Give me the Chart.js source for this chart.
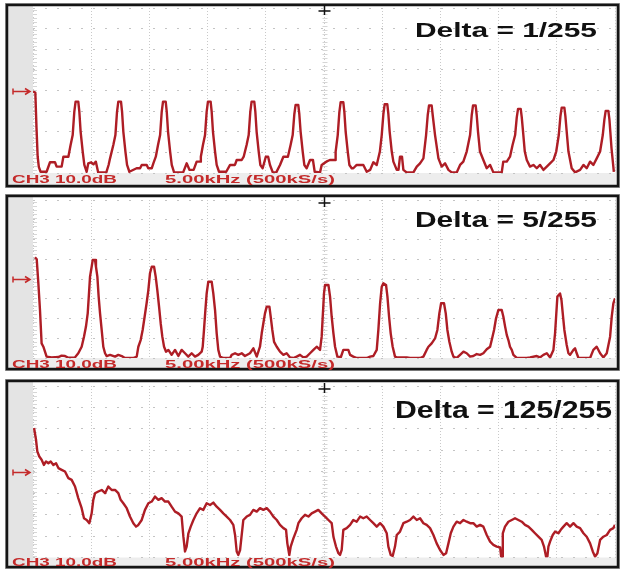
<!DOCTYPE html>
<html>
<head>
<meta charset="utf-8">
<script src="https://cdn.jsdelivr.net/npm/chart.js@4.4.0/dist/chart.umd.min.js"></script>
<style>
  html, body { margin: 0; padding: 0; background: #fff; }
  #wrap { position: relative; width: 623px; height: 569px; overflow: hidden; }
  canvas { position: absolute; left: 0; }
</style>
</head>
<body>
<div id="wrap">
  <canvas id="c1" width="623" height="190" style="top:0px"></canvas>
  <canvas id="c2" width="623" height="182" style="top:190px"></canvas>
  <canvas id="c3" width="623" height="193" style="top:376px"></canvas>
</div>
<script>
// spectrum traces, [kHz, dB above bottom of screen]
const trace1 = [
  [0,39.5],[0.2,39],[0.3,22],[0.4,8],[0.5,3],[0.65,0.6],
  [1.17,0.6],[1.46,5.2],[1.89,5.2],[2.03,3.1],[2.46,3.1],[2.61,7.9],[3.04,7.9],
  [3.23,13.6],[3.41,18.4],[3.55,29.8],[3.66,34.6],[3.89,34.6],[3.98,29.8],[4.09,20.1],[4.27,10.4],[4.41,3.9],[4.61,0.6],
  [4.75,4.7],[5.0,5.2],[5.2,4.2],[5.4,5.5],[5.6,0.3],[6.3,0.3],[6.5,4],[6.62,7.1],
  [6.9,13.6],[7.08,18.4],[7.22,29.8],[7.33,34.6],[7.56,34.6],[7.65,29.8],[7.76,20.1],[7.94,10.4],[8.08,3.9],[8.28,0.6],
  [8.9,2.3],[9.2,2.3],[9.34,3.9],[9.77,3.9],[9.9,2.3],[10.2,2.3],[10.34,4.7],[10.55,7.9],
  [10.74,13.6],[10.92,18.4],[11.06,29.8],[11.17,34.6],[11.4,34.6],[11.49,29.8],[11.6,20.1],[11.78,10.4],[11.92,3.9],[12.12,0.3],
  [12.9,0.3],[13.2,4.7],[13.45,1.5],[13.8,1.5],[14.06,5.5],[14.35,5.5],[14.42,7.9],
  [14.6,13.6],[14.78,18.4],[14.92,29.8],[15.03,34.6],[15.26,34.6],[15.35,29.8],[15.46,20.1],[15.64,10.4],[15.78,3.9],[15.98,0.6],
  [16.6,0.6],[16.93,3.9],[17.35,3.9],[17.5,6.3],[17.93,6.3],[18.1,7.9],
  [18.35,13.6],[18.53,18.4],[18.67,29.8],[18.78,34.6],[19.01,34.6],[19.1,29.8],[19.21,20.1],[19.39,10.4],[19.53,3.9],[19.73,2.3],
  [20.0,7.9],[20.2,7.9],[20.36,3.9],[20.6,0.3],[20.9,0.3],[21.22,3.9],[21.51,7.9],[21.9,7.9],
  [22.13,13.6],[22.31,18.4],[22.45,28.5],[22.56,33],[22.79,33],[22.88,28.5],[22.99,20.1],[23.17,10.4],[23.31,3.9],[23.51,2.3],
  [23.8,6.3],[24.05,6.3],[24.2,0.6],[24.66,0.3],[24.8,3.9],[25.2,5.5],[25.5,6.3],[25.95,6.3],
  [26.0,10.4],[26.18,18.4],[26.32,29.5],[26.43,34.3],[26.66,34.3],[26.75,29.5],[26.86,20.1],[27.04,10.4],[27.18,3.9],[27.38,2.3],
  [27.52,2.3],[27.81,3.9],[28.38,3.9],[28.67,0.6],[28.96,1.5],[29.24,5.2],[29.53,3.9],[29.8,10.4],
  [29.96,18.4],[30.1,28.5],[30.21,33.3],[30.44,33.3],[30.53,28.5],[30.64,20.1],[30.82,10.4],
  [30.96,5.5],[31.25,1.5],[31.4,1.5],[31.53,7.9],[31.7,7.9],[31.82,1.5],[32.1,0.3],[32.68,0.3],[32.97,3.1],[33.25,4.7],[33.54,7.1],
  [33.77,18.4],[33.91,28],[34.02,32.7],[34.25,32.7],[34.34,28],[34.54,18.4],[34.83,7.1],[35.11,3.1],[35.4,4.7],[35.69,1.5],[35.97,0.3],[36.4,0.3],[36.69,3.9],[36.97,5.5],[37.26,10.4],
  [37.55,18.4],[37.69,28],[37.8,32.7],[38.03,32.7],[38.12,28],[38.23,20.1],[38.4,10.4],
  [38.69,6.3],[38.98,2.3],[39.27,3.9],[39.55,0.3],[40.27,0.3],[40.4,5.5],[40.7,5.5],[40.98,7.9],
  [41.2,13.6],[41.42,18.4],[41.56,27],[41.67,31.1],[41.9,31.1],[41.99,27],[42.1,20.1],[42.25,10.4],
  [42.42,6.3],[42.7,3.1],[42.99,3.9],[43.28,2.3],[43.56,3.9],[43.85,1.5],[44.14,3.1],[44.42,4.7],[44.71,6.3],
  [44.95,10.4],[45.17,18.4],[45.31,27.5],[45.42,31.7],[45.65,31.7],[45.74,27.5],[45.85,20.1],[46.0,10.4],
  [46.28,2.3],[46.57,0.3],[47.0,1.5],[47.29,3.9],[47.57,2.3],[47.86,5.5],[48.14,3.9],[48.43,7.1],[48.72,10.4],
  [48.95,18.4],[49.09,26],[49.2,30.1],[49.43,30.1],[49.52,26],[49.7,12],[49.9,0.6]
];

const trace2 = [
  [0.17,51],[0.32,50],[0.46,37.8],[0.6,24.3],[0.74,7.4],[0.89,5.7],[1.17,0.7],
  [1.6,0.3],[2.2,0.5],[2.45,1.2],[2.75,1.0],[3.0,0.2],[3.6,0.3],[3.89,2.4],
  [4.18,5.7],[4.38,10.8],[4.55,15.9],[4.7,22.6],[4.81,32.7],[4.9,41.2],[5.04,46.2],[5.13,49.6],[5.33,49.6],[5.41,46.2],[5.53,41.2],[5.64,31.1],[5.76,22.6],[5.9,14.2],[6.04,5.7],[6.19,2.4],[6.33,1.0],
  [6.62,1.6],[7.05,0.7],[7.33,1.6],[7.62,1.0],[7.9,0],[8.62,0],[8.91,0.7],
  [9.05,5.7],[9.25,9.1],[9.42,14.2],[9.59,20.9],[9.76,27.7],[9.91,34.4],[10.05,42.9],[10.2,46.2],[10.4,46.2],[10.54,41.2],[10.68,34.4],[10.83,26.0],[10.97,17.6],[11.11,10.8],[11.26,5.7],[11.43,3.2],
  [11.63,4.1],[11.91,1.6],[12.2,4.1],[12.49,1.0],[12.77,4.1],[13.06,2.4],[13.34,0.7],[13.63,2.4],[13.92,0.7],[14.2,1.6],[14.49,3.2],
  [14.58,5.7],[14.69,14.2],[14.81,24.3],[14.92,32.7],[15.06,38.6],[15.35,38.6],[15.49,32.7],[15.64,24.3],[15.78,12.5],[15.92,4.1],[16.07,0.7],
  [16.35,0],[16.93,0],[17.07,1.6],[17.36,2.4],[17.64,1.6],[17.93,2.4],[18.21,1.0],[18.64,2.4],[18.93,4.9],[19.22,0.7],
  [19.5,5.7],[19.65,12.5],[19.79,17.6],[19.93,22.6],[20.08,26.0],[20.31,26.0],[20.42,20.9],[20.56,14.2],[20.71,8.2],[20.94,5.7],[21.22,3.2],[21.51,1.6],[21.79,2.4],[22.08,0.3],[22.37,0],[22.65,0.7],[22.94,1.6],[23.23,0.3],[23.51,0.7],[23.8,2.4],[24.09,4.1],[24.37,5.7],[24.66,4.1],
  [24.8,10.8],[24.89,20.9],[25.0,32.7],[25.09,37],[25.38,37],[25.52,31.1],[25.66,20.9],[25.81,12.5],[25.95,5.7],[26.15,0.7],
  [26.45,0.5],[26.66,4.1],[27.09,4.1],[27.24,1.6],[27.52,0.7],[27.81,0],[28.67,0],[28.96,0.7],[29.24,1.0],
  [29.53,4.1],[29.67,14.2],[29.82,27.7],[29.96,36.1],[30.1,37.8],[30.33,37],[30.45,31.1],[30.59,20.9],[30.73,12.5],[30.9,5.7],[31.1,0.7],
  [31.25,0.3],[32.11,0.3],[32.39,0],[33.25,0],[33.54,0.7],[33.82,4.1],
  [33.97,5.7],[34.25,7.4],[34.54,9.9],[34.74,14.2],[34.91,22.6],[35.06,27.7],[35.31,27.7],[35.46,22.6],[35.6,14.2],[35.77,8.2],[35.97,3.2],[36.12,0.7],
  [36.4,0],[36.69,1.6],[36.98,3.2],[37.26,2.4],[37.55,0.7],[37.83,1.0],[38.12,2.0],[38.41,1.6],[38.69,2.4],[38.98,4.4],[39.27,5.7],
  [39.41,9.1],[39.61,14.2],[39.78,20.1],[39.98,24.3],[40.27,24.3],[40.41,20.9],[40.56,15.9],[40.7,11.7],[40.84,9.1],[40.98,5.7],[41.13,4.1],[41.27,1.6],[41.56,0],
  [42.42,0],[42.7,0.3],[43.28,1.0],[43.56,0.3],[43.85,1.6],[44.14,2.4],[44.42,0.3],[44.71,4.1],
  [44.85,12.5],[44.94,20.9],[45.05,31.1],[45.28,32.7],[45.4,29.4],[45.51,22.6],[45.65,14.2],[45.85,6.6],[46.0,2.4],[46.14,1.6],
  [46.43,4.1],[46.57,4.9],[46.71,2.4],[46.86,0],[47.86,0],[48.14,4.1],[48.43,5.7],[48.72,2.4],[49.0,0.3],[49.29,2.4],[49.58,10.8],[49.72,20.9],[49.86,27.7],[50.0,30.2]
];

const trace3 = [
  [0.09,60.4],[0.26,54.9],[0.37,49.5],[0.54,47.1],[0.74,45.6],[0.94,43.2],[1.12,44.8],[1.32,44.0],[1.52,44.8],[1.75,43.2],[1.98,44.0],
  [2.18,41.7],[2.46,40.9],[2.75,40.1],[3.04,37.0],[3.32,36.2],[3.61,33.1],[3.89,27.7],[4.18,23.0],[4.38,18.3],[4.61,17.5],[4.84,16.0],
  [5.04,20.6],[5.18,26.9],[5.33,30.0],[5.61,30.8],[5.9,31.5],[6.19,30.0],[6.47,33.1],[6.76,31.5],[7.05,31.5],[7.33,30.0],[7.53,26.9],
  [7.76,25.3],[8.05,23.0],[8.33,19.1],[8.62,16.0],[8.85,14.4],[9.05,15.2],[9.34,17.5],[9.62,22.2],[9.91,25.3],[10.2,26.1],[10.48,28.4],
  [10.77,26.9],[11.05,27.7],[11.34,26.1],[11.63,26.1],[11.91,23.7],[12.2,21.4],[12.49,20.6],[12.77,19.1],[12.92,9.7],[13.06,2.8],
  [13.2,5.1],[13.35,11.3],[13.55,14.4],[13.78,17.5],[14.06,20.6],[14.35,23.0],[14.63,22.2],[14.92,25.3],[15.21,24.5],[15.49,25.6],
  [15.78,23.7],[16.07,22.2],[16.35,20.6],[16.64,19.1],[16.93,17.5],[17.21,15.2],[17.36,10.5],[17.5,2.8],[17.64,1.2],[17.79,3.5],
  [18.07,17.5],[18.36,19.1],[18.64,19.9],[18.93,22.2],[19.22,21.4],[19.5,23.0],[19.79,22.2],[20.08,23.0],[20.36,21.4],[20.65,19.1],
  [20.94,17.5],[21.22,15.2],[21.51,13.7],[21.74,12.9],[21.85,6.6],[22.02,1.2],[22.14,5.1],[22.37,8.9],[22.65,12.9],[22.8,16.0],
  [23.08,18.3],[23.37,19.9],[23.66,19.1],[23.94,20.6],[24.23,21.4],[24.51,22.2],[24.8,20.6],[25.09,19.1],[25.38,17.5],[25.66,16.0],
  [25.81,9.7],[26.03,5.1],[26.24,2.0],[26.38,1.2],[26.52,3.5],[26.66,12.9],[26.95,13.7],[27.24,15.2],[27.52,17.5],[27.81,16.7],
  [28.1,19.1],[28.38,18.3],[28.67,19.1],[28.96,17.5],[29.24,16.0],[29.53,14.4],[29.82,16.0],[30.1,14.4],[30.39,11.3],[30.53,5.1],
  [30.73,1.2],[30.9,0.7],[31.1,5.1],[31.25,10.5],[31.53,12.1],[31.82,16.0],[32.11,16.7],[32.39,17.5],[32.68,19.1],[32.97,17.5],
  [33.25,18.3],[33.54,16.0],[33.82,15.2],[34.11,13.7],[34.4,10.5],[34.68,6.6],[34.97,3.5],[35.26,1.2],[35.49,2.0],[35.69,6.6],
  [35.89,11.3],[36.12,14.4],[36.4,16.7],[36.69,16.0],[36.98,17.5],[37.26,16.7],[37.55,16.0],[37.83,16.0],[38.12,14.4],[38.41,15.2],
  [38.69,14.4],[38.98,10.5],[39.27,7.4],[39.55,5.9],[39.84,5.1],[40.13,4.7],[40.22,0.4],[40.3,0.4],[40.36,11.3],[40.55,14.4],
  [40.84,16.7],[41.13,17.5],[41.41,18.3],[41.7,17.5],[41.99,16.7],[42.27,15.2],[42.56,14.4],[42.85,12.9],[43.13,11.3],[43.42,9.7],
  [43.7,8.2],[43.9,5.1],[44.08,0.4],[44.19,0.4],[44.28,5.1],[44.42,7.4],[44.65,10.5],[44.85,12.1],[45.14,11.3],[45.34,12.9],
  [45.57,14.4],[45.85,16.0],[46.14,14.4],[46.43,16.0],[46.71,14.4],[47.0,13.7],[47.29,11.3],[47.57,9.7],[47.86,6.6],[48.09,2.8],
  [48.29,0.4],[48.49,2.0],[48.72,8.2],[49.0,9.7],[49.29,10.5],[49.58,12.9],[49.86,13.7],[50.0,15.2]
];

const deltaLabels = ['Delta = 1/255', 'Delta = 5/255', 'Delta = 125/255'];
const channelLabel = 'CH3 10.0dB';
const timebaseLabel = '5.00kHz (500kS/s)';
const refLevel = 40;   // dB, the red marker on the left
const xRange = [0, 50];  // kHz, 5 kHz / div
const yRange = [0, 80];  // dB, 10 dB / div

// screen geometry of each panel (canvas coords)
const panels = [
  { id: 'c1', trace: trace1, pad: { top: 8, bottom: 17 }, frame: [7, 5, 618, 186],
    labelBase: 183, delta: { x: 415, w: 182, base: 37, size: 21 } },
  { id: 'c2', trace: trace2, pad: { top: 10, bottom: 14 }, frame: [7, 6, 618, 179],
    labelBase: 178, delta: { x: 415, w: 182, base: 37, size: 22 } },
  { id: 'c3', trace: trace3, pad: { top: 10, bottom: 11.5 }, frame: [7, 5, 618, 191],
    labelBase: 190, delta: { x: 395, w: 217, base: 42, size: 24 } }
];

function stretchText(ctx, text, x, y, w, font, color) {
  ctx.save();
  ctx.font = font;
  const m = ctx.measureText(text).width;
  ctx.translate(x, y);
  ctx.scale(w / m, 1);
  ctx.fillStyle = color;
  ctx.textBaseline = 'alphabetic';
  ctx.fillText(text, 0, 0);
  ctx.restore();
}

const scopeFrame = {
  id: 'scopeFrame',
  beforeDraw(chart, args, o) {
    const { ctx, chartArea: a, width, height } = chart;
    const [fx1, fy1, fx2, fy2] = o.frame;
    ctx.save();
    ctx.fillStyle = '#fff';
    ctx.fillRect(0, 0, width, height);
    ctx.fillStyle = '#e4e4e4';
    ctx.fillRect(fx1, fy1, a.left - fx1, fy2 - fy1);
    ctx.fillStyle = '#ededed';
    ctx.fillRect(a.left, a.bottom, fx2 - a.left, fy2 - a.bottom);
    ctx.fillRect(a.right, fy1, fx2 - a.right, fy2 - fy1);
    ctx.restore();
  },
  beforeDatasetsDraw(chart) {
    // ruler ticks on the centre line and the left edge
    const { ctx, chartArea: a, scales } = chart;
    const cx = Math.round(scales.x.getPixelForValue(25)) + 0.5;
    ctx.save();
    ctx.strokeStyle = '#d6d6d6';
    ctx.lineWidth = 1;
    ctx.beginPath();
    for (let y = a.top + 2; y < a.bottom; y += 4) {
      ctx.moveTo(cx - 2, y + 0.5); ctx.lineTo(cx + 3, y + 0.5);
      ctx.moveTo(a.left, y + 0.5); ctx.lineTo(a.left + 4, y + 0.5);
    }
    ctx.stroke();
    ctx.restore();
  },
  afterDraw(chart, args, o) {
    const { ctx, chartArea: a, scales } = chart;
    const [fx1, fy1, fx2, fy2] = o.frame;
    ctx.save();
    // frame
    ctx.strokeStyle = '#9a9a9a';
    ctx.lineWidth = 1;
    ctx.strokeRect(fx1 - 1.5, fy1 - 1.5, fx2 - fx1 + 3, fy2 - fy1 + 3);
    ctx.strokeStyle = '#151515';
    ctx.lineWidth = 2.5;
    ctx.strokeRect(fx1, fy1, fx2 - fx1, fy2 - fy1);

    // bottom readouts
    stretchText(ctx, channelLabel, 12, o.labelBase, 105, 'bold 11px "Liberation Sans", Arial, sans-serif', '#c42a2a');
    stretchText(ctx, timebaseLabel, 165, o.labelBase, 170, 'bold 11px "Liberation Sans", Arial, sans-serif', '#c42a2a');

    // delta caption
    const d = o.delta;
    stretchText(ctx, o.text, d.x, d.base, d.w, 'bold ' + d.size + 'px "Liberation Sans", Arial, sans-serif', '#111');

    // reference level marker
    const ry = Math.round(scales.y.getPixelForValue(refLevel)) + 0.5;
    ctx.strokeStyle = '#c42a2a';
    ctx.lineWidth = 1.5;
    ctx.beginPath();
    ctx.moveTo(13, ry - 3); ctx.lineTo(13, ry + 3);
    ctx.moveTo(13, ry); ctx.lineTo(30, ry);
    ctx.moveTo(25, ry - 3); ctx.lineTo(30, ry); ctx.lineTo(25, ry + 3);
    ctx.stroke();

    // trigger marker at the top centre
    const cx = Math.round(scales.x.getPixelForValue(25)) + 0.5;
    ctx.strokeStyle = '#111';
    ctx.lineWidth = 1.5;
    ctx.beginPath();
    ctx.moveTo(cx - 6, a.top + 3); ctx.lineTo(cx + 6, a.top + 3);
    ctx.moveTo(cx, a.top - 3); ctx.lineTo(cx, a.top + 7);
    ctx.stroke();
    ctx.restore();
  }
};

panels.forEach((p, i) => {
  const ctx = document.getElementById(p.id).getContext('2d');
  new Chart(ctx, {
    type: 'line',
    data: {
      datasets: [{
        data: p.trace.map(([x, y]) => ({ x, y })),
        borderColor: '#ae1d25',
        borderWidth: 2.4,
        pointRadius: 0,
        tension: 0,
        fill: false,
        borderJoinStyle: 'round'
      }]
    },
    options: {
      responsive: false,
      animation: false,
      events: [],
      layout: { padding: { left: 33, right: 8, top: p.pad.top, bottom: p.pad.bottom } },
      scales: {
        x: {
          type: 'linear', min: xRange[0], max: xRange[1],
          ticks: { display: false, stepSize: 5 },
          grid: { color: '#c9c9c9', lineWidth: 1, drawTicks: false },
          border: { display: false, dash: [1, 2] }
        },
        y: {
          type: 'linear', min: yRange[0], max: yRange[1],
          ticks: { display: false, stepSize: 10 },
          grid: { color: '#c4c4c4', lineWidth: 1, drawTicks: false },
          border: { display: false, dash: [2, 10] }
        }
      },
      plugins: {
        legend: { display: false },
        tooltip: { enabled: false },
        scopeFrame: { frame: p.frame, labelBase: p.labelBase, delta: p.delta, text: deltaLabels[i] }
      }
    },
    plugins: [scopeFrame]
  });
});
</script>
</body>
</html>
